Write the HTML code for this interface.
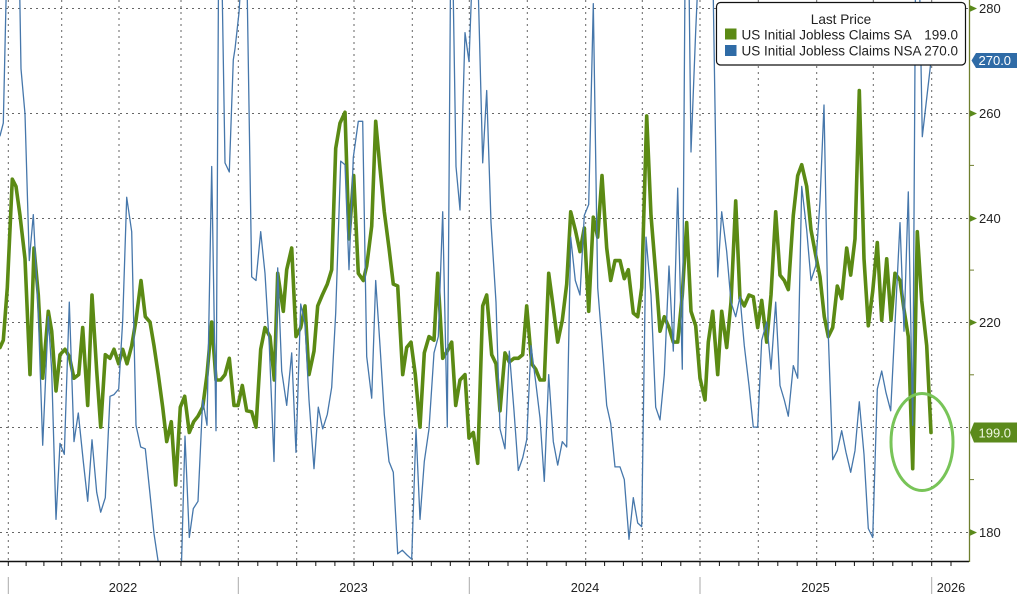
<!DOCTYPE html>
<html>
<head>
<meta charset="utf-8">
<style>
  html,body{margin:0;padding:0;background:#fff;}
  svg{display:block;}
  text{font-family:"Liberation Sans",Arial,sans-serif;}
</style>
</head>
<body>
<svg width="1017" height="594" viewBox="0 0 1017 594" xmlns="http://www.w3.org/2000/svg">
  <defs>
    <clipPath id="plot"><rect x="0" y="0" width="969" height="561"/></clipPath>
  </defs>
  <rect x="0" y="0" width="1017" height="594" fill="#fff"/>

  <!-- horizontal grid -->
  <g stroke="#666" stroke-width="1" stroke-dasharray="2 4" fill="none">
    <line x1="0" y1="8.5" x2="969" y2="8.5"/>
    <line x1="0" y1="113.5" x2="969" y2="113.5"/>
    <line x1="0" y1="218.5" x2="969" y2="218.5"/>
    <line x1="0" y1="322.5" x2="969" y2="322.5"/>
    <line x1="0" y1="427.5" x2="969" y2="427.5"/>
    <line x1="0" y1="532.5" x2="969" y2="532.5"/>
  </g>
  <!-- vertical grid -->
  <g stroke="#666" stroke-width="1" stroke-dasharray="2 4" fill="none">
    <line x1="8.3" y1="0" x2="8.3" y2="561"/>
    <line x1="61.7" y1="0" x2="61.7" y2="561"/>
    <line x1="119" y1="0" x2="119" y2="561"/>
    <line x1="181" y1="0" x2="181" y2="561"/>
    <line x1="238.3" y1="0" x2="238.3" y2="561"/>
    <line x1="296.7" y1="0" x2="296.7" y2="561"/>
    <line x1="354" y1="0" x2="354" y2="561"/>
    <line x1="412.3" y1="0" x2="412.3" y2="561"/>
    <line x1="469.3" y1="0" x2="469.3" y2="561"/>
    <line x1="527.3" y1="0" x2="527.3" y2="561"/>
    <line x1="585.7" y1="0" x2="585.7" y2="561"/>
    <line x1="642.3" y1="0" x2="642.3" y2="561"/>
    <line x1="700" y1="0" x2="700" y2="561"/>
    <line x1="758.3" y1="0" x2="758.3" y2="561"/>
    <line x1="816.7" y1="0" x2="816.7" y2="561"/>
    <line x1="873.3" y1="0" x2="873.3" y2="561"/>
    <line x1="931.7" y1="0" x2="931.7" y2="561"/>
  </g>

  <g clip-path="url(#plot)" fill="none" stroke-linejoin="round" stroke-linecap="round">
    <!-- SA (green) -->
    <polyline stroke="#5b8a14" stroke-width="3.6" points="
0,347.5 3.3,340.2 7.3,287.8 12.3,179.2 16,186.4 20,215.4 25,258.8 30,374.6 34,248 38.3,295 42.7,378.2 48.3,311.3 51.7,331.2 56,390.9 60,354.7 65,349.3 69.3,356.5 74,378.2 78.7,374.6 82.7,327.6 87.7,405.4 92,295 96.7,371 100.7,427.1 105.3,354.7 110,358.3 114,349.3 118.7,363.8 122.7,349.3 127,363.8 131.7,345.7 136,320.3 141,280.5 145.3,316.7 150,322.1 154,345.7 158.3,374.6 162.7,407.2 166.7,441.6 171.3,421.7 175.7,485 180.3,407.2 184.7,396.3 189.3,432.5 193.7,421.7 198,416.2 202.7,407.2 207,374.6 211.7,322.1 216,380 220.7,380 225,374.6 229.3,358.3 234,405.4 238,405.4
242.3,385.5 246.7,410.8 251.7,411.9 256,427.1 260.7,349.3 265,327.6 270,336.6 274.3,380 277.7,273.3 283.3,311.3 286.7,269.7 291.7,248 296,336.6 300.7,327.6 305,305.9 309,374.6 314,351.1 317.7,305.9 322.3,295 327.3,284.1 331.7,269.7 335.7,148.4 340,123.1 345,112.2 349,238.9 353.7,175.6 358.3,273.3 363.3,280.5 366.7,266 371.7,226.2 375.7,121.3 380,168.3 384.3,211.8 389,248 393.3,284.1 397.7,286 402.7,374.6 406.7,347.5 411,342.1 415.3,374.6 420,427.1 424.3,352.9 429,336.6 434,340.2 437.7,273.3 442.7,358.3 447.3,351.1 451.7,342.1 455.7,405.4 460,380 465,374.6 469,438 473.3,432.5 477.7,463.3
482.7,305.9 486.7,295 491.7,354.7 496,363.8 500,410.8 505,352.9 509.3,362 514,358.3 518.3,358.3 522.7,354.7 526.7,305.9 531.7,363.8 535.7,369.2 540,380 544.3,380 548.7,273.3 553.3,307.7 557.7,342.1 562.3,320.3 566.7,284.1 570.7,211.8 575.3,229.9 580,251.6 584.3,228 588.7,311.3 593.3,217.2 597.7,237.1 602,175.6 606.7,248 610.7,280.5 615,260.6 620,260.6 624.3,278.7 628.3,269.7 633.3,313.1 637.7,316.7 641.7,287.8 646.7,115.9 651,215.4 655.7,273.3 660,331.2 664.3,316.7 669,327.6 673.3,342.1 677.7,342.1 682.3,295 686.7,222.6 691,311.3 695.7,325.8 700,378.2 705,400
708.3,342.1 712.7,311.3 717.7,374.6 721.7,311.3 726.7,347.5 731,302.2 735.7,200.9 740,298.6 744.3,305.9 749,295 753.3,296.8 757.7,327.6 761.7,300.4 766.7,342.1 771,295 775.7,211.8 780,275.1 784.3,280.5 788.3,289.6 793.3,215.4 797.7,175.6 801.7,164.7 806.7,186.4 811,229.9 815.7,255.2 820,276.9 824.3,316.7 828.3,336.6 832.7,327.6 837.3,286 841.7,298.6 846.7,248 850.7,275.1 855,238.9 859.3,90.5 864,258.8 868.3,325.8 872.7,291.4 877.3,242.5 881.7,320.3 886.7,258.8 891,320.3 895,273.3 900,280.5 904,309.5 908.3,336.6 912.7,468.7 917.3,231.7 921.7,300.4 926.7,345.7 931,432.5"/>
    <!-- NSA (blue) -->
    <polyline stroke="#4677ab" stroke-width="1.3" points="
0,135.8 3.3,123.1 6.5,-20 19.5,-20 21,68.8 25,114 29.3,260.6 33.3,214.7 38.3,313 42.7,445.2 48.3,316.7 51.7,371 56,519.4 60,443.4 64.3,454.3 69.3,302.2 74,441.6 78.3,413 83.3,461.5 87.7,501.3 92,439.8 96.7,492.3 100.7,512.2 105.3,497.7 110,396.3 114,394.6 118.7,389 122.7,320.3 126.7,197.3 131.7,231.7 136,425.3 140.7,447 145.3,448.8 150,494 154,533.6 158.3,562.5 162.7,590 167,600 171.3,595 175.7,605 180.5,600 185,436.2 189.3,537.5 193.3,508.6 198,501.3 202.7,400 207,425.3 211.7,166.5 216,430.7 218.5,-20 222,-20 225,162.9 229.3,172 233.3,59.8 235,48.9 239,12.7 241,-20 247,-20
251.7,276.9 256,280.5 260.7,231.7 265,273.3 269.3,345.7 274,461.5 277.7,267.9 281.7,371 286.7,405.4 291.7,352.9 296,452.4 300.7,304 305,324 309,400 314,468.7 318.3,407.2 322.7,428.9 327.3,414.4 331.7,387.3 335.7,313.1 340.7,161.1 345,164.7 349,269.7 353.3,157.5 358.3,121.3 362.7,121.3 366.7,356.5 371.7,398.2 375.7,280.5 380,345.7 384.3,414.4 389,461.5 393.3,472.3 397.7,553.8 402.3,550.2 407,555 411.7,559.2 416,428.9 420,519.4 424.3,461.5 429,428.9 434,352.9 438.3,336.6 442.7,211.8 447.3,427.1 450.5,-20 453,-20 456,166.5 460,210 465,32.6 469,61.6 472,-20 478,-20
482.7,162.9 486.7,90.5 491,222.6 496,302.2 500,428.9 505,448.8 509.3,351.1 514,410.8 518.3,470.5 522.7,457.9 526.7,439.8 531,345.7 535.7,381.9 540,418 544.3,481.4 548.7,374.6 553.3,441.6 557.7,465.1 562.3,441.6 566.7,447 570.7,237.1 575.3,280.5 580,295 584.3,215.4 588.7,204.5 593.3,3.7 597.7,287.8 602,342.1 606.7,405.4 610.7,423.5 615,466.9 620,466.9 624.3,479.6 629,539.3 633.3,497.7 637.7,523 641.7,526.6 646,237.1 651,295 655.7,407.2 660,419.9 664.3,374.6 669,266 673.3,351.1 677.7,188.2 682.3,369.2 685,-20 689,-20 691,152 695.7,30.8 698,-20 713,-20
717.7,276.9 721.7,211.8 726.7,251.6 731,302.2 735.7,316.7 740,296.8 744.3,345.7 749,385.5 753.3,427.1 757.7,427.1 761.7,340.2 766.7,322.1 771,369.2 775.7,302.2 780,385.5 784.3,400 788.3,416.2 793.3,365.6 797.7,378.2 801.7,186.4 806.7,229.9 811,280.5 815.7,266 820,200.9 824,105 828.3,334.8 832.7,459.7 837.3,450.6 841.7,430.7 846,452.4 850.7,472.3 855,450.6 859.3,401.8 864,454.3 868.3,528.5 872.7,537.5 877.3,389.1 881.7,371 886,392.7 890.7,410.8 895,324 900,222.6 904,331.2 908.3,191.9 912.7,425.3 915.5,-20 919.5,-20 922.3,136.7 926.5,100 931,61"/>
    <!-- highlight ellipse -->
    <ellipse cx="922" cy="442" rx="31" ry="48.5" stroke="#78c458" stroke-width="3"/>
  </g>

  <!-- x axis -->
  <line x1="0" y1="561.5" x2="969" y2="561.5" stroke="#111" stroke-width="1.5"/>
  <path stroke="#111" stroke-width="1" fill="none" d="
M8.3,562v4 M26.1,562v4 M43.9,562v4 M61.7,562v4 M80.8,562v4 M99.9,562v4 M119,562v4 M139.7,562v4 M160.3,562v4 M181,562v4 M200.1,562v4 M219.2,562v4
M238.3,562v4 M257.8,562v4 M277.2,562v4 M296.7,562v4 M315.8,562v4 M334.9,562v4 M354,562v4 M373.4,562v4 M392.9,562v4 M412.3,562v4 M431.3,562v4 M450.3,562v4
M469.3,562v4 M488.6,562v4 M508,562v4 M527.3,562v4 M546.8,562v4 M566.2,562v4 M585.7,562v4 M604.6,562v4 M623.4,562v4 M642.3,562v4 M661.5,562v4 M680.8,562v4
M700,562v4 M719.4,562v4 M738.9,562v4 M758.3,562v4 M777.8,562v4 M797.2,562v4 M816.7,562v4 M835.6,562v4 M854.4,562v4 M873.3,562v4 M892.8,562v4 M912.2,562v4
M931.7,562v4 M951,562v4"/>
  <g stroke="#aaa" stroke-width="1">
    <line x1="8.3" y1="577" x2="8.3" y2="594"/>
    <line x1="238.3" y1="577" x2="238.3" y2="594"/>
    <line x1="469.3" y1="577" x2="469.3" y2="594"/>
    <line x1="700" y1="577" x2="700" y2="594"/>
    <line x1="931.7" y1="577" x2="931.7" y2="594"/>
  </g>
  <g font-size="12.8" fill="#222" text-anchor="middle">
    <text x="123" y="592">2022</text>
    <text x="353.5" y="592">2023</text>
    <text x="585" y="592">2024</text>
    <text x="815.5" y="592">2025</text>
    <text x="951" y="592">2026</text>
  </g>

  <!-- right axis -->
  <line x1="969.5" y1="0" x2="969.5" y2="562" stroke="#6f7f2e" stroke-width="1.3"/>
  <g stroke="#6f7f2e" stroke-width="1">
    <line x1="969.5" y1="165.4" x2="974" y2="165.4"/>
    <line x1="969.5" y1="270.1" x2="974" y2="270.1"/>
    <line x1="969.5" y1="374.8" x2="974" y2="374.8"/>
    <line x1="969.5" y1="479.6" x2="974" y2="479.6"/>
  </g>
  <g fill="#5b8a1c">
    <path d="M970,5.3 L977,8.5 L970,11.7 Z"/>
    <path d="M970,110.3 L977,113.5 L970,116.7 Z"/>
    <path d="M970,215.3 L977,218.5 L970,221.7 Z"/>
    <path d="M970,319.3 L977,322.5 L970,325.7 Z"/>
    <path d="M970,529.3 L977,532.5 L970,535.7 Z"/>
  </g>
  <g font-size="13" fill="#222">
    <text x="979" y="13.2">280</text>
    <text x="979" y="118.2">260</text>
    <text x="979" y="223.2">240</text>
    <text x="979" y="327.2">220</text>
    <text x="979" y="537.2">180</text>
  </g>

  <!-- value tags -->
  <path d="M971.5,60.5 L976,53 L1017,53 L1017,68 L976,68 Z" fill="#2f6ba6"/>
  <text x="978.5" y="65.2" font-size="13" fill="#fff">270.0</text>
  <path d="M970,432.5 L974,422.5 L1017,422.5 L1017,442.5 L974,442.5 Z" fill="#5b8a1c"/>
  <text x="978.5" y="437.3" font-size="13" fill="#eef7e2">199.0</text>

  <!-- legend -->
  <rect x="716.5" y="2.5" width="249" height="62.5" rx="4" ry="4" fill="#fff" stroke="#111" stroke-width="1.2"/>
  <text x="841" y="24" font-size="13.6" fill="#222" text-anchor="middle">Last Price</text>
  <rect x="725" y="28.5" width="11.5" height="11" fill="#5b8a14"/>
  <text x="741.5" y="39.5" font-size="13.5" fill="#222">US Initial Jobless Claims SA</text>
  <text x="958" y="39.5" font-size="13.5" fill="#222" text-anchor="end">199.0</text>
  <rect x="725" y="45" width="11.5" height="11" fill="#2f6ba6"/>
  <text x="741.5" y="55.7" font-size="13.5" fill="#222">US Initial Jobless Claims NSA</text>
  <text x="958" y="55.7" font-size="13.5" fill="#222" text-anchor="end">270.0</text>
</svg>
</body>
</html>
